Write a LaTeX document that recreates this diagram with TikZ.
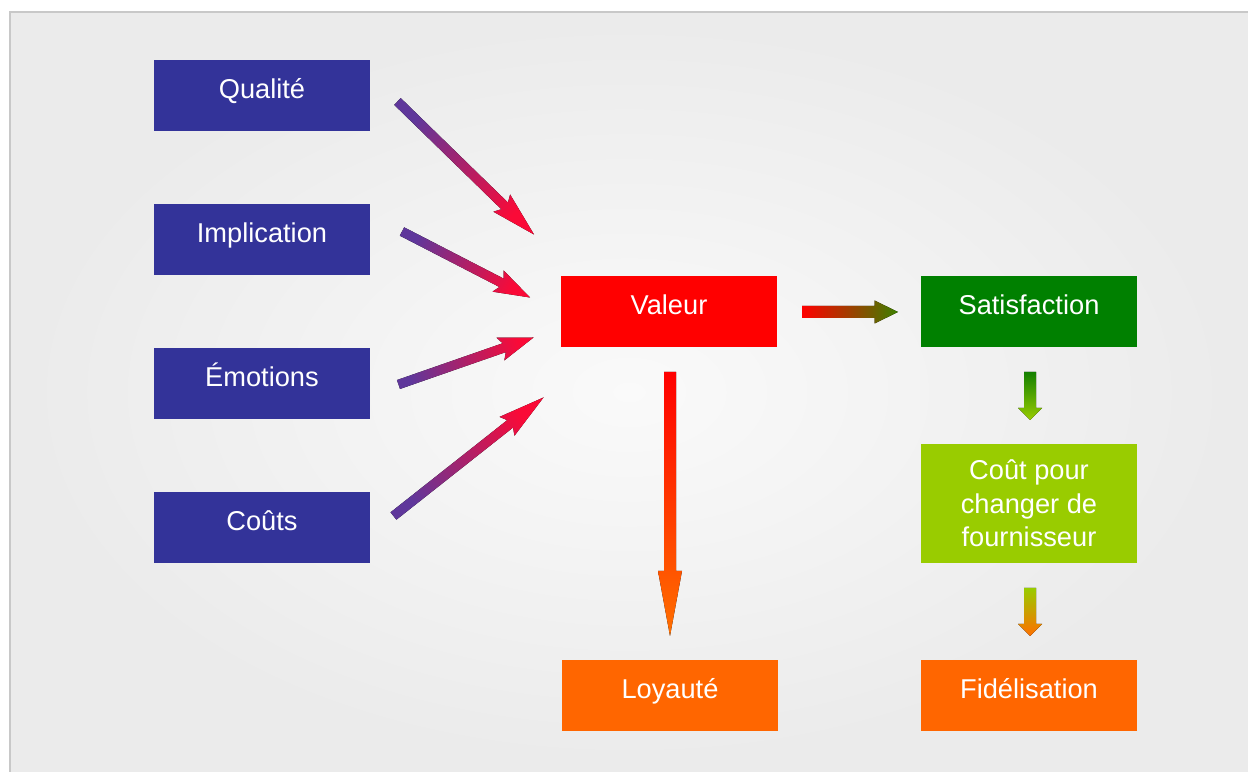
\documentclass[tikz,border=0pt]{standalone}
\usepackage{fontspec}
\setmainfont{Liberation Sans}
\usetikzlibrary{calc}

\definecolor{boxblue}{RGB}{51,51,153}
\definecolor{boxred}{RGB}{255,0,0}
\definecolor{boxgreen}{RGB}{0,128,0}
\definecolor{boxlime}{RGB}{153,204,0}
\definecolor{boxorange}{RGB}{255,102,0}
\definecolor{arrpurple}{RGB}{95,55,155}
\definecolor{arrred}{RGB}{250,10,55}
\definecolor{arrolive}{RGB}{60,128,0}
\definecolor{arrgreen}{RGB}{20,128,0}
\definecolor{arrorange}{RGB}{255,112,0}
\definecolor{framegray}{RGB}{200,200,200}

% block arrow: style, tail, tip, shaft half width, head length, head half width, notch
\newcommand{\blockarrow}[7]{%
  \coordinate (hw) at ($(#3)!#5!(#2)$);
  \coordinate (hb) at ($(#3)!#5-#7!(#2)$);
  \fill[#1] ($(#2)!#4!-90:(#3)$) -- ($(hb)!#4!-90:(#3)$) -- ($(hw)!#6!-90:(#3)$) -- (#3)
    -- ($(hw)!#6!90:(#3)$) -- ($(hb)!#4!90:(#3)$) -- ($(#2)!#4!90:(#3)$) -- cycle;
}

\tikzset{
  tile/.style={minimum width=4.32cm, minimum height=1.42cm, inner sep=0pt,
    text=white, font=\fontsize{15.5}{19}\selectfont},
  onebox/.style={tile, text height=0.4cm, text depth=0.3cm},
  diag/.style={left color=arrpurple, right color=arrred, shading angle=#1}
}

\begin{document}
\begin{tikzpicture}
\useasboundingbox (0,0) rectangle (24.96,15.44);

% background and frame
\shade[inner color=white!98!black, outer color=white!92!black] (0.2,0) rectangle (24.96,15.2);
\draw[framegray, line width=0.9pt] (0.2,0) -- (0.2,15.2) -- (24.96,15.2);

\foreach \name/\txt/\y in {qual/Qualité/13.52, impl/Implication/10.64, emo/Émotions/7.76, couts/Coûts/4.88} {
	\node[onebox, fill=boxblue] (\name) at (5.24,\y) {\txt};
}

\node[onebox, fill=boxred] (val) at (13.38,9.2) {Valeur};
\node[onebox, fill=boxgreen] (sat) at (20.58,9.2) {Satisfaction};
\node[tile, minimum height=2.38cm, align=center, fill=boxlime] (chg) at (20.58,5.37) {Coût pour\\changer de\\fournisseur};
\node[onebox, fill=boxorange] (loy) at (13.40,1.52) {Loyauté};
\node[onebox, fill=boxorange] (fid) at (20.58,1.52) {Fidélisation};

\coordinate (q0) at (7.95,13.41);
\coordinate (q1) at (10.68,10.75);
\coordinate (i0) at (8.04,10.81);
\coordinate (i1) at (10.60,9.49);
\coordinate (e0) at (7.97,7.75);
\coordinate (e1) at (10.67,8.69);
\coordinate (c0) at (7.87,5.12);
\coordinate (c1) at (10.87,7.49);

\blockarrow{diag=45.7}{q0}{q1}{0.094cm}{0.9cm}{0.24cm}{0.08cm}
\blockarrow{diag=62.7}{i0}{i1}{0.094cm}{0.72cm}{0.24cm}{0.08cm}
\blockarrow{diag=109.2}{e0}{e1}{0.094cm}{0.7cm}{0.24cm}{0.08cm}
\blockarrow{diag=128.3}{c0}{c1}{0.094cm}{0.93cm}{0.24cm}{0.08cm}

\coordinate (v0) at (16.04,9.2);
\coordinate (v1) at (17.96,9.2);
\coordinate (l0) at (13.40,8.0);
\coordinate (l1) at (13.40,2.72);
\coordinate (s0) at (20.6,8.0);
\coordinate (s1) at (20.6,7.04);
\coordinate (f0) at (20.6,3.68);
\coordinate (f1) at (20.6,2.72);

\blockarrow{left color=boxred, right color=arrolive, shading angle=90}{v0}{v1}{0.12cm}{0.47cm}{0.23cm}{0cm}
\blockarrow{left color=boxred, right color=arrorange, shading angle=0}{l0}{l1}{0.12cm}{1.3cm}{0.24cm}{0cm}
\blockarrow{left color=arrgreen, right color=boxlime, shading angle=0}{s0}{s1}{0.12cm}{0.24cm}{0.24cm}{0cm}
\blockarrow{left color=boxlime, right color=arrorange, shading angle=0}{f0}{f1}{0.12cm}{0.24cm}{0.24cm}{0cm}

\end{tikzpicture}
\end{document}
